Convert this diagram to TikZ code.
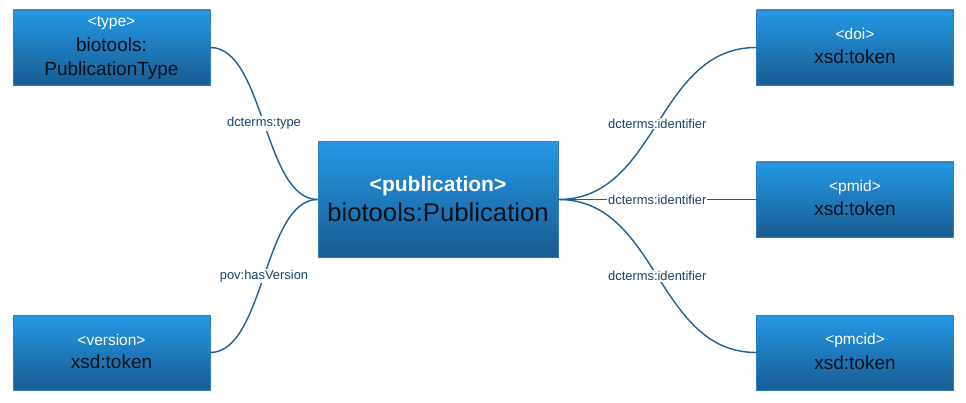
\documentclass[tikz,border=0pt]{standalone}
\usepackage{fontspec}
\setmainfont{Liberation Sans}
\definecolor{boxtop}{RGB}{36,152,229}
\definecolor{boxbot}{RGB}{25,92,146}
\definecolor{boxline}{RGB}{48,125,190}
\definecolor{linkcol}{RGB}{30,95,150}
\definecolor{lblcol}{RGB}{25,66,108}
\definecolor{typecol}{RGB}{8,16,26}
\begin{document}
\begin{tikzpicture}[x=1pt,y=-1pt,
  entity/.style={rectangle, draw=boxline, line width=0.6pt,
    top color=boxtop, bottom color=boxbot, inner sep=0pt},
  small/.style={minimum width=197pt, minimum height=75pt},
  big/.style={minimum width=240pt, minimum height=116pt},
  tagtxt/.style={anchor=base, inner sep=0pt, text=white,
    font=\fontsize{15.5}{18}\selectfont},
  typetxt/.style={anchor=base, inner sep=0pt, text=typecol,
    font=\fontsize{19}{22}\selectfont},
  link/.style={draw=linkcol, line width=1.4pt},
  lbl/.style={fill=white, text=lblcol, inner sep=1pt,
    font=\fontsize{12.9}{15}\selectfont}]
\useasboundingbox (0,0) rectangle (966,403);

% entity boxes
\node[entity, big]   (pub)     at (438,199.5)   {};
\node[entity, small] (type)    at (111.5,47.5)  {};
\node[entity, small] (version) at (111.5,352.5) {};
\node[entity, small] (doi)     at (855,47.5)  {};
\node[entity, small] (pmid)    at (855,199.5) {};
\node[entity, small] (pmcid)   at (855,352.5) {};

% box captions
\node[tagtxt, font=\bfseries\fontsize{21}{24}\selectfont] (pubtag) at ([yshift=7.5]pub.center) {<publication>};
\node[typetxt, font=\fontsize{25.7}{28}\selectfont] (pubtype) at ([yshift=-22.5]pub.center) {biotools:Publication};

\node[tagtxt]  (typetag)  at ([yshift=21]type.center)  {<type>};
\node[typetxt] (typetype1) at ([yshift=-4]type.center) {biotools:};
\node[typetxt] (typetype2) at ([yshift=-28]type.center) {PublicationType};

\node[tagtxt]  (versiontag)  at ([yshift=7.5]version.center)  {<version>};
\node[typetxt] (versiontype) at ([yshift=-16]version.center) {xsd:token};

\node[tagtxt]  (doitag)  at ([yshift=8]doi.center)  {<doi>};
\node[typetxt] (doitype) at ([yshift=-16.5]doi.center) {xsd:token};

\node[tagtxt]  (pmidtag)  at ([yshift=8]pmid.center)  {<pmid>};
\node[typetxt] (pmidtype) at ([yshift=-16.5]pmid.center) {xsd:token};

\node[tagtxt]  (pmcidtag)  at ([yshift=8]pmcid.center)  {<pmcid>};
\node[typetxt] (pmcidtype) at ([yshift=-16.5]pmcid.center) {xsd:token};

% property links
\draw[link] (type.east) .. controls +(54,0) and +(-54,0) .. (pub.west)
  node[lbl, midway] (l1) {dcterms:type};
\draw[link] (version.east) .. controls +(54,0) and +(-54,0) .. (pub.west)
  node[lbl, midway] (l2) {pov:hasVersion};
\draw[link] (pub.east) .. controls +(100,0) and +(-100,0) .. (doi.west)
  node[lbl, midway] (l3) {dcterms:identifier};
\draw[link] (pub.east) -- (pmid.west)
  node[lbl, midway] (l4) {dcterms:identifier};
\draw[link] (pub.east) .. controls +(100,0) and +(-100,0) .. (pmcid.west)
  node[lbl, midway] (l5) {dcterms:identifier};
\end{tikzpicture}
\end{document}
